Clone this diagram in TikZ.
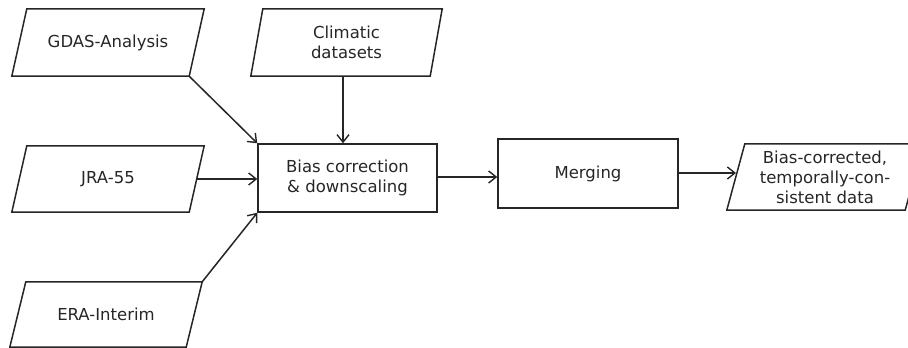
\documentclass[tikz,border=0pt]{standalone}
\usepackage{fontspec}
\setmainfont{DejaVu Sans}
\usetikzlibrary{calc,arrows.meta}
\tikzset{
  box/.style={rectangle, draw=black!85, line width=1.5pt, inner sep=0pt, align=center,
    font=\fontsize{16.5}{20}\selectfont, text=black!85},
  databox/.style={rectangle, draw=none, inner sep=0pt, align=center,
    font=\fontsize{16.5}{20}\selectfont, text=black!85},
  para/.style={draw=black!85, line width=1.5pt, line join=miter},
  arr/.style={draw=black!85, line width=1.5pt, -{Straight Barb[length=7.5pt,width=12pt,line width=1.4pt]}},
}
\newcommand{\paragram}[2]{%
  \draw[para] ($(#1.north west)+(#2,0)$) -- (#1.north east) -- ($(#1.south east)+(-#2,0)$) -- (#1.south west) -- cycle;}
\begin{document}
\begin{tikzpicture}[x=1pt,y=-1pt]
\useasboundingbox (0,0) rectangle (908,348);
\clip (0,0) rectangle (908,348);
% data (parallelogram) nodes
\node[databox, minimum width=192pt, minimum height=67pt] (g) at (108,42.5) {GDAS-Analysis};
\node[databox, minimum width=191pt, minimum height=67pt] (c) at (346.5,42.5) {Climatic\\datasets};
\node[databox, minimum width=192pt, minimum height=66pt] (j) at (108,179) {JRA-55};
\node[databox, minimum width=192pt, minimum height=65pt] (e) at (106,314.5) {ERA-Interim};
\node[databox, minimum width=196pt, minimum height=66pt] (o) at (825,177) {Bias-corrected,\\temporally-con-\\sistent data};
\paragram{g}{15}
\paragram{c}{12}
\paragram{j}{15}
\paragram{e}{16}
\paragram{o}{18}
% process nodes
\node[box, minimum width=179pt, minimum height=68pt] (b) at (347.5,178) {Bias correction\\\& downscaling};
\node[box, minimum width=180pt, minimum height=69pt] (m) at (588,173.5) {Merging};
% connector anchors
\coordinate (gbr) at ($(g.south east)+(-15,0)$);
\coordinate (jr) at ($(j.east)+(-7.5,0)$);
\coordinate (etr) at (e.north east);
\coordinate (cb) at (343,76);
\coordinate (ol) at (736,173);
% connectors
\draw[arr] (gbr) -- (b.north west);
\draw[arr] (cb) -- (cb |- b.north);
\draw[arr] (jr) -- (jr -| b.west);
\draw[arr] (etr) -- (b.south west);
\draw[arr] (b.east |- 0,177) -- (m.west |- 0,177);
\draw[arr] (m.east |- ol) -- (ol);
\end{tikzpicture}
\end{document}
